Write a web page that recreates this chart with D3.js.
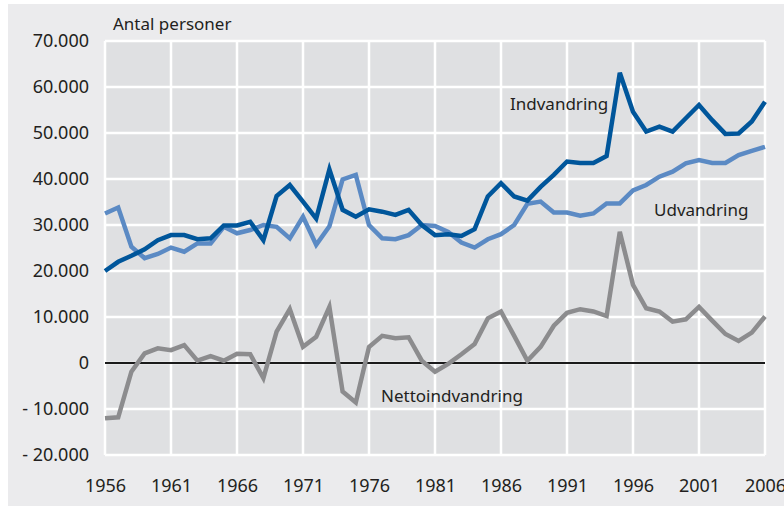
<!DOCTYPE html>
<html>
<head>
<meta charset="utf-8">
<script src="https://cdn.jsdelivr.net/npm/d3@7"></script>
<style>
  html, body { margin: 0; padding: 0; background: #ffffff; }
  svg text { font-family: "Noto Sans", sans-serif; fill: #231f20; }
</style>
</head>
<body>
<div id="chart"></div>
<script>
// data
var years = d3.range(1956, 2007);
var yearTicks = [1956, 1961, 1966, 1971, 1976, 1981, 1986, 1991, 1996, 2001, 2006];
var valueTicks = [-20000, -10000, 0, 10000, 20000, 30000, 40000, 50000, 60000, 70000];

var indvandring = [
  20000, 22000, 23300, 24700, 26700, 27800, 27800, 26900, 27100, 29900,
  29900, 30700, 26700, 36300, 38700, 35100, 31400, 42100, 33300, 31800,
  33400, 32900, 32200, 33300, 30000, 27800, 28000, 27600, 29100, 36200,
  39100, 36200, 35300, 38300, 40900, 43800, 43500, 43500, 45000, 63100,
  54600, 50300, 51400, 50300, 53200, 56100, 52800, 49800, 49900, 52500,
  56800
];
var udvandring = [
  32500, 33800, 25300, 22800, 23700, 25100, 24200, 26000, 26000, 29600,
  28200, 28900, 30000, 29600, 27100, 31800, 25700, 29700, 39900, 40900,
  30000, 27100, 26900, 27800, 30000, 29800, 28500, 26200, 25100, 26900,
  28000, 30000, 34600, 35100, 32700, 32700, 32000, 32500, 34700, 34700,
  37500, 38700, 40500, 41600, 43400, 44100, 43500, 43500, 45200, 46100,
  47000
];
var nettoindvandring = [
  -12000, -11800, -1900, 2100, 3200, 2800, 3900, 500, 1500, 500,
  2000, 1900, -3300, 6800, 11700, 3500, 5700, 12200, -6200, -8600,
  3500, 5900, 5400, 5600, 500, -1900, -200, 1900, 4100, 9700,
  11200, 5900, 500, 3500, 8100, 10900, 11700, 11200, 10200, 28500,
  17000, 11900, 11200, 9000, 9500, 12200, 9200, 6300, 4800, 6600,
  10100
];

var width = 784, height = 506;
var plotLeft = 105, plotRight = 765, plotTop = 41, plotBottom = 455;

var svg = d3.select('#chart').append('svg')
  .attr('width', width)
  .attr('height', height);

// outer panel
svg.append('rect')
  .attr('x', 8).attr('y', 4)
  .attr('width', width - 8).attr('height', height - 4)
  .style('fill', '#ebebed');

var x = d3.scaleLinear().domain([1956, 2006]).range([plotLeft, plotRight]);
var y = d3.scaleLinear().domain([-20000, 70000]).range([plotBottom, plotTop]);

// plot area
svg.append('rect')
  .attr('x', plotLeft).attr('y', plotTop)
  .attr('width', plotRight - plotLeft).attr('height', plotBottom - plotTop)
  .style('fill', '#dfe0e2');

// grid
var grid = svg.append('g');
grid.selectAll('line.v').data(yearTicks).enter().append('line')
  .attr('x1', function(d) { return x(d); })
  .attr('x2', function(d) { return x(d); })
  .attr('y1', plotTop).attr('y2', plotBottom)
  .style('stroke', '#ffffff').style('stroke-width', 2.5);
grid.selectAll('line.h').data(valueTicks).enter().append('line')
  .attr('x1', plotLeft).attr('x2', plotRight)
  .attr('y1', function(d) { return y(d); })
  .attr('y2', function(d) { return y(d); })
  .style('stroke', '#ffffff').style('stroke-width', 2.5);

// zero line
svg.append('line')
  .attr('x1', plotLeft).attr('x2', plotRight)
  .attr('y1', y(0)).attr('y2', y(0))
  .style('stroke', '#1a1a1a').style('stroke-width', 2);

// axes (text only)
var fmt = function(d) {
  var s = d3.format(',')(Math.abs(d)).replace(/,/g, '.');
  return d < 0 ? '- ' + s : s;
};
var yAxis = d3.axisLeft(y).tickValues(valueTicks).tickFormat(fmt).tickSize(0).tickPadding(0);
svg.append('g')
  .attr('transform', 'translate(89,0)')
  .call(yAxis)
  .call(function(g) {
    g.select('.domain').remove();
    g.selectAll('text').style('font-size', '18px').style('fill', '#231f20')
      .style('font-family', '"Noto Sans", sans-serif');
  });

var xAxis = d3.axisBottom(x).tickValues(yearTicks).tickFormat(d3.format('d')).tickSize(0).tickPadding(0);
svg.append('g')
  .attr('transform', 'translate(0,479)')
  .call(xAxis)
  .call(function(g) {
    g.select('.domain').remove();
    g.selectAll('text').style('font-size', '18px').style('fill', '#231f20')
      .style('font-family', '"Noto Sans", sans-serif');
  });

// lines
var line = d3.line()
  .x(function(d, i) { return x(years[i]); })
  .y(function(d) { return y(d); });

svg.append('path').datum(nettoindvandring)
  .attr('d', line)
  .style('fill', 'none').style('stroke', '#8c8c8e').style('stroke-width', 4.5);
svg.append('path').datum(udvandring)
  .attr('d', line)
  .style('fill', 'none').style('stroke', '#5b8ac4').style('stroke-width', 4.5);
svg.append('path').datum(indvandring)
  .attr('d', line)
  .style('fill', 'none').style('stroke', '#00569b').style('stroke-width', 4.5);

// labels
svg.append('text').attr('x', 113).attr('y', 30)
  .style('font-size', '17px').text('Antal personer');
svg.append('text').attr('x', 510).attr('y', 110)
  .style('font-size', '17px').text('Indvandring');
svg.append('text').attr('x', 654).attr('y', 216)
  .style('font-size', '17px').text('Udvandring');
svg.append('text').attr('x', 381).attr('y', 402)
  .style('font-size', '17px').text('Nettoindvandring');
</script>
</body>
</html>
